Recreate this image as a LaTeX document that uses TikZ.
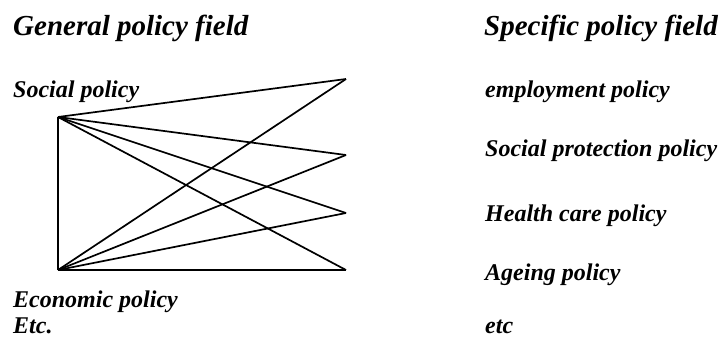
\documentclass[tikz,border=0pt]{standalone}
\usepackage{fontspec}
\setmainfont{Liberation Serif}
\begin{document}
\begin{tikzpicture}[x=1pt,y=-1pt,
  heading/.style={anchor=base west,inner sep=0pt,font=\fontsize{29}{31}\selectfont\bfseries\itshape},
  field/.style={anchor=base west,inner sep=0pt,font=\fontsize{24}{26}\selectfont\bfseries\itshape},
  link/.style={line width=1.7pt,line join=miter}]
\useasboundingbox (0,0) rectangle (724,338);

% column headings
\node[heading] (gen) at (13,35) {General policy field};
\node[heading] (spec) at (484,35) {Specific policy field};

% general fields
\node[field] (soc) at (13,97) {Social policy};
\node[field] (eco) at (13,307) {Economic policy};
\node[field] (etcl) at (13,333) {Etc.};

% specific fields
\node[field] (emp) at (485,97) {employment policy};
\node[field] (prot) at (485,156) {Social protection policy};
\node[field] (health) at (485,221) {Health care policy};
\node[field] (age) at (485,280) {Ageing policy};
\node[field] (etcr) at (485,333) {etc};

% junction points
\coordinate (S) at (58,117);
\coordinate (E) at (58,270);
\coordinate (r1) at (346,79);
\coordinate (r2) at (346,155);
\coordinate (r3) at (346,213);
\coordinate (r4) at (346,270);

% every general field linked to every specific field
\draw[link] (S) -- (E);
\foreach \r in {r1,r2,r3,r4} {
  \draw[link] (S) -- (\r);
  \draw[link] (E) -- (\r);
}
\end{tikzpicture}
\end{document}
